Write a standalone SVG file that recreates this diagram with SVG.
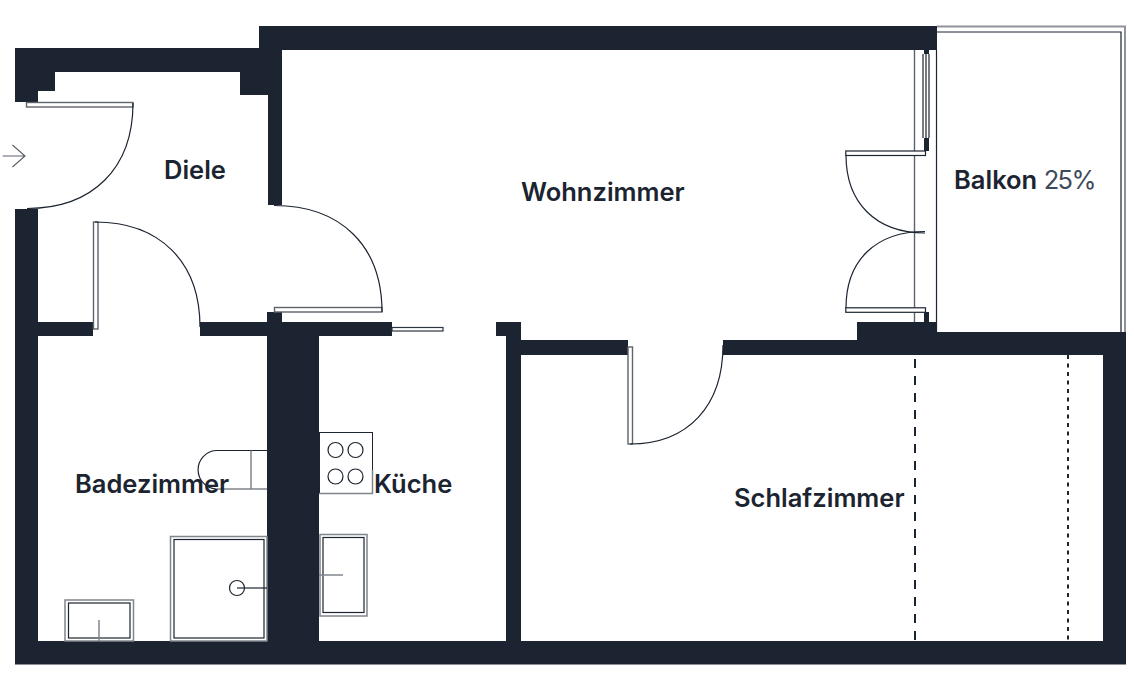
<svg xmlns="http://www.w3.org/2000/svg" width="1134" height="683" viewBox="0 0 1134 683">
<style>
.w{fill:#1b2430}
.t{fill:none;stroke:#1b2430;stroke-width:1.2}
.g{fill:none;stroke:#80858c;stroke-width:1.5}
.f{fill:#fff;stroke:#5d636c;stroke-width:1.4}
text{font-family:"Inter","Liberation Sans",sans-serif;font-size:25.5px;font-weight:600;fill:#1b2430}
.r{font-weight:400;fill:#3f4a5a;letter-spacing:-1.6px}
</style>
<rect width="1134" height="683" fill="#fff"/>
<g id="balcony">
<path d="M937 26.500H1125V332" fill="none" stroke="#8f9399" stroke-width="2"/>
<path d="M937 32H1121V332" class="t" stroke-width="1"/>
<path d="M936.500 50V332" class="t"/>
<path d="M914.500 50V322" fill="none" stroke="#5d636c" stroke-width="1.400"/>
</g>
<g id="walls">
<path class="w" d="M259 26H937V50H282V205H268V95H240V72H55V91H38V102H15V48H259Z"/>
<path class="w" d="M15 209H38V322H93V336H38V641H267V336H200V322H267V312H282V322H392V336H319V641H506V336H496V322H521V340H628V355H521V641H1103V355H723V340H857V322H924V312H929V322H937V332H1126V664.500H15Z"/>
<path class="w" d="M924 50H929V54H924ZM924 138H929V151H924Z"/>
</g>
<g id="window">
<path class="t" d="M923 54V138M926 54V138M929 54V138" stroke-width="1"/>
</g>
<g id="doors">
<rect class="f" x="26.500" y="102.500" width="106.500" height="4.500"/>
<path class="t" d="M133 103C133 168.400 92.700 208.500 27 208.500"/>
<rect class="f" x="93.500" y="222" width="4.500" height="107"/>
<path class="t" d="M95 222C160 222 200 262 200 327"/>
<rect class="f" x="274.500" y="307.500" width="107.500" height="4.500"/>
<path class="t" d="M274 205.500C341 205.500 382 246 382 312"/>
<rect x="392" y="327.500" width="51" height="3.500" fill="#fff" stroke="#2c3440" stroke-width="1.200"/>
<rect class="f" x="628" y="347" width="4.500" height="97"/>
<path class="t" d="M630 444C688 444 723 406 723 345"/>
<rect x="845.800" y="151" width="79.700" height="4.500" fill="#fff" stroke="#1b2430" stroke-width="1.200"/>
<path class="t" d="M846 155C846 203 876 233 925 233"/>
<rect x="845.800" y="307.800" width="79.700" height="4.500" fill="#fff" stroke="#1b2430" stroke-width="1.200"/>
<path class="t" d="M846 308C846 260 876 231.500 925 231.500"/>
<path d="M2.700 156H25M12.500 145L25 156L12.500 167" fill="none" stroke="#5d636c" stroke-width="1.200"/>
</g>
<g id="fixtures">
<path class="t" d="M267 450.500H216A19.300 19.300 0 0 0 216 489"/>
<path class="g" d="M216 489H267M251 450.500V489"/>
<rect x="319.500" y="432.500" width="53" height="61" fill="#fff" stroke="#1b2430" stroke-width="1"/>
<path class="g" d="M319 493.500H372.500V470"/>
<g class="t"><circle cx="335.500" cy="450" r="7.500"/><circle cx="355.500" cy="450" r="7.500"/><circle cx="335.500" cy="476.500" r="7.500"/><circle cx="355.500" cy="476.500" r="7.500"/></g>
<rect class="g" x="170.500" y="536.500" width="96.500" height="104.500" stroke-width="2"/>
<rect class="t" x="174" y="539.500" width="90" height="98.500"/>
<circle class="t" cx="237" cy="588" r="7.500"/>
<path class="t" d="M237 588H267"/>
<rect class="g" x="65" y="600" width="68.500" height="41" stroke-width="2"/>
<rect class="t" x="68.500" y="603" width="61.500" height="35"/>
<path class="g" d="M99 620V641"/>
<rect class="g" x="320" y="534.500" width="47" height="81.500" stroke-width="2"/>
<rect class="t" x="323" y="537.500" width="41" height="75"/>
<path class="g" d="M319 575H343"/>
</g>
<g id="dashes" fill="none" stroke="#1b2430" stroke-width="2">
<path d="M915 359V641" stroke-dasharray="9 8"/>
<path d="M1068 355V641" stroke-dasharray="4 4.500"/>
</g>
<g id="labels">
<text x="164" y="179">Diele</text>
<text x="521" y="201">Wohnzimmer</text>
<text x="954" y="189">Balkon <tspan class="r">25%</tspan></text>
<text x="75" y="493">Badezimmer</text>
<text x="374" y="493">Küche</text>
<text x="734" y="507">Schlafzimmer</text>
</g>
</svg>
